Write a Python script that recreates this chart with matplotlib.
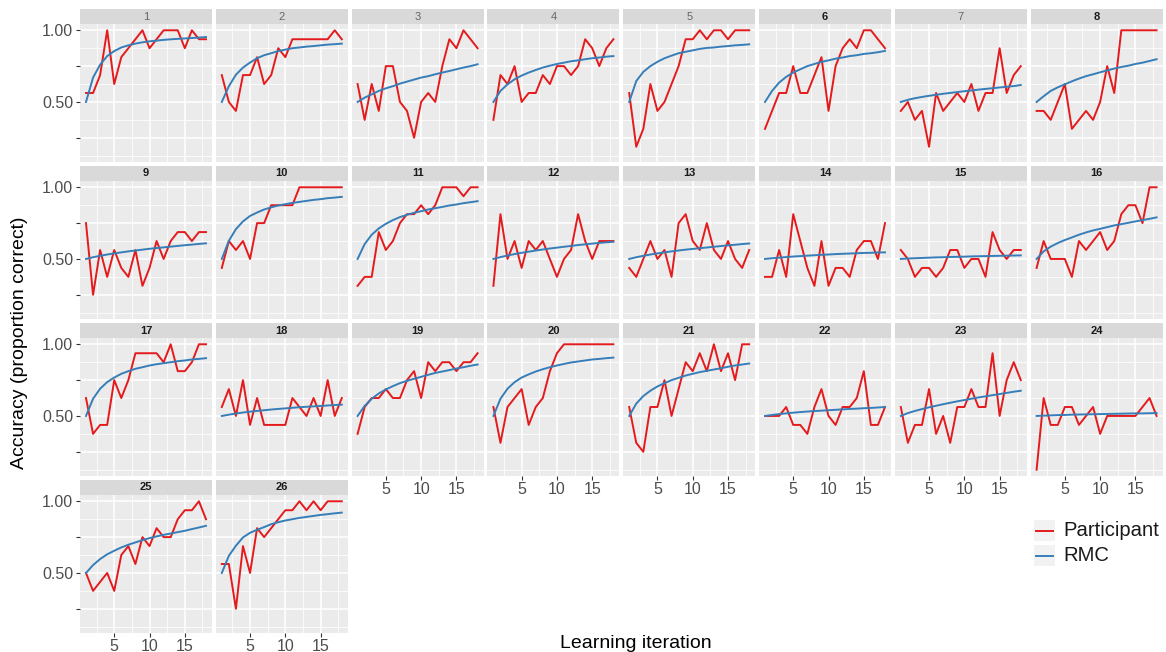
import matplotlib
matplotlib.use("Agg")
from matplotlib import pyplot as plt
from matplotlib.patches import Rectangle
from matplotlib.lines import Line2D
from matplotlib.ticker import MultipleLocator

plt.rcParams["font.family"] = ["Liberation Sans", "DejaVu Sans"]

# data: accuracy per learning iteration, one list per participant
iterations = list(range(1, 19))
panels = [str(i) for i in range(1, 27)]

participant = [
    [0.5625, 0.5625, 0.6875, 1.0, 0.625, 0.8125, 0.875, 0.9375, 1.0, 0.875, 0.9375, 1.0, 1.0, 1.0, 0.875, 1.0, 0.9375, 0.9375],
    [0.6875, 0.5, 0.4375, 0.6875, 0.6875, 0.8125, 0.625, 0.6875, 0.875, 0.8125, 0.9375, 0.9375, 0.9375, 0.9375, 0.9375, 0.9375, 1.0, 0.9375],
    [0.625, 0.375, 0.625, 0.4375, 0.75, 0.75, 0.5, 0.4375, 0.25, 0.5, 0.5625, 0.5, 0.75, 0.9375, 0.875, 1.0, 0.9375, 0.875],
    [0.375, 0.6875, 0.625, 0.75, 0.5, 0.5625, 0.5625, 0.6875, 0.625, 0.75, 0.75, 0.6875, 0.75, 0.9375, 0.875, 0.75, 0.875, 0.9375],
    [0.5625, 0.1875, 0.3125, 0.625, 0.4375, 0.5, 0.625, 0.75, 0.9375, 0.9375, 1.0, 0.9375, 1.0, 1.0, 0.9375, 1.0, 1.0, 1.0],
    [0.3125, 0.4375, 0.5625, 0.5625, 0.75, 0.5625, 0.5625, 0.6875, 0.8125, 0.4375, 0.75, 0.875, 0.9375, 0.875, 1.0, 1.0, 0.9375, 0.875],
    [0.4375, 0.5, 0.375, 0.4375, 0.1875, 0.5625, 0.4375, 0.5, 0.5625, 0.5, 0.625, 0.4375, 0.5625, 0.5625, 0.875, 0.5625, 0.6875, 0.75],
    [0.4375, 0.4375, 0.375, 0.5, 0.625, 0.3125, 0.375, 0.4375, 0.375, 0.5, 0.75, 0.5625, 1.0, 1.0, 1.0, 1.0, 1.0, 1.0],
    [0.75, 0.25, 0.5625, 0.375, 0.5625, 0.4375, 0.375, 0.5625, 0.3125, 0.4375, 0.625, 0.5, 0.625, 0.6875, 0.6875, 0.625, 0.6875, 0.6875],
    [0.4375, 0.625, 0.5625, 0.625, 0.5, 0.75, 0.75, 0.875, 0.875, 0.875, 0.875, 1.0, 1.0, 1.0, 1.0, 1.0, 1.0, 1.0],
    [0.3125, 0.375, 0.375, 0.6875, 0.5625, 0.625, 0.75, 0.8125, 0.8125, 0.875, 0.8125, 0.875, 1.0, 1.0, 1.0, 0.9375, 1.0, 1.0],
    [0.3125, 0.8125, 0.5, 0.625, 0.4375, 0.625, 0.5625, 0.625, 0.5, 0.375, 0.5, 0.5625, 0.8125, 0.625, 0.5, 0.625, 0.625, 0.625],
    [0.4375, 0.375, 0.5, 0.625, 0.5, 0.5625, 0.375, 0.75, 0.8125, 0.625, 0.5625, 0.75, 0.5625, 0.5, 0.625, 0.5, 0.4375, 0.5625],
    [0.375, 0.375, 0.5625, 0.375, 0.8125, 0.625, 0.4375, 0.3125, 0.625, 0.3125, 0.4375, 0.4375, 0.375, 0.5625, 0.625, 0.625, 0.5, 0.75],
    [0.5625, 0.5, 0.375, 0.4375, 0.4375, 0.375, 0.4375, 0.5625, 0.5625, 0.4375, 0.5, 0.5, 0.375, 0.6875, 0.5625, 0.5, 0.5625, 0.5625],
    [0.4375, 0.625, 0.5, 0.5, 0.5, 0.375, 0.625, 0.5625, 0.625, 0.6875, 0.5625, 0.625, 0.8125, 0.875, 0.875, 0.75, 1.0, 1.0],
    [0.625, 0.375, 0.4375, 0.4375, 0.75, 0.625, 0.75, 0.9375, 0.9375, 0.9375, 0.9375, 0.875, 1.0, 0.8125, 0.8125, 0.875, 1.0, 1.0],
    [0.5625, 0.6875, 0.5, 0.75, 0.4375, 0.625, 0.4375, 0.4375, 0.4375, 0.4375, 0.625, 0.5625, 0.5, 0.625, 0.5, 0.75, 0.5, 0.625],
    [0.375, 0.5625, 0.625, 0.625, 0.6875, 0.625, 0.625, 0.75, 0.8125, 0.625, 0.875, 0.8125, 0.875, 0.875, 0.8125, 0.875, 0.875, 0.9375],
    [0.5625, 0.3125, 0.5625, 0.625, 0.6875, 0.4375, 0.5625, 0.625, 0.8125, 0.9375, 1.0, 1.0, 1.0, 1.0, 1.0, 1.0, 1.0, 1.0],
    [0.5625, 0.3125, 0.25, 0.5625, 0.5625, 0.75, 0.5, 0.6875, 0.875, 0.8125, 0.9375, 0.8125, 1.0, 0.8125, 0.9375, 0.75, 1.0, 1.0],
    [0.5, 0.5, 0.5, 0.5625, 0.4375, 0.4375, 0.375, 0.5625, 0.6875, 0.5, 0.4375, 0.5625, 0.5625, 0.625, 0.8125, 0.4375, 0.4375, 0.5625],
    [0.5625, 0.3125, 0.4375, 0.4375, 0.6875, 0.375, 0.5, 0.3125, 0.5625, 0.5625, 0.6875, 0.5625, 0.5625, 0.9375, 0.5, 0.75, 0.875, 0.75],
    [0.125, 0.625, 0.4375, 0.4375, 0.5625, 0.5625, 0.4375, 0.5, 0.5625, 0.375, 0.5, 0.5, 0.5, 0.5, 0.5, 0.5625, 0.625, 0.5],
    [0.5, 0.375, 0.4375, 0.5, 0.375, 0.625, 0.6875, 0.5625, 0.75, 0.6875, 0.8125, 0.75, 0.75, 0.875, 0.9375, 0.9375, 1.0, 0.875],
    [0.5625, 0.5625, 0.25, 0.6875, 0.5, 0.8125, 0.75, 0.8125, 0.875, 0.9375, 0.9375, 1.0, 0.9375, 1.0, 0.9375, 1.0, 1.0, 1.0],
]

rmc = [
    [0.5, 0.67, 0.76, 0.82, 0.855, 0.88, 0.895, 0.907, 0.916, 0.923, 0.928, 0.933, 0.937, 0.94, 0.943, 0.946, 0.949, 0.953],
    [0.5, 0.61, 0.69, 0.74, 0.775, 0.805, 0.826, 0.84, 0.855, 0.865, 0.875, 0.88, 0.886, 0.89, 0.895, 0.9, 0.903, 0.907],
    [0.5, 0.53, 0.553, 0.577, 0.595, 0.61, 0.628, 0.642, 0.656, 0.67, 0.68, 0.693, 0.705, 0.716, 0.728, 0.74, 0.75, 0.763],
    [0.5, 0.577, 0.623, 0.658, 0.684, 0.705, 0.723, 0.74, 0.753, 0.765, 0.774, 0.784, 0.79, 0.798, 0.805, 0.81, 0.816, 0.82],
    [0.5, 0.646, 0.71, 0.75, 0.78, 0.805, 0.823, 0.84, 0.85, 0.86, 0.87, 0.877, 0.88, 0.886, 0.89, 0.895, 0.898, 0.902],
    [0.5, 0.577, 0.635, 0.675, 0.705, 0.728, 0.75, 0.765, 0.78, 0.79, 0.802, 0.81, 0.82, 0.826, 0.835, 0.84, 0.847, 0.856],
    [0.5, 0.515, 0.526, 0.535, 0.543, 0.55, 0.557, 0.563, 0.569, 0.575, 0.58, 0.586, 0.591, 0.596, 0.601, 0.606, 0.611, 0.618],
    [0.5, 0.54, 0.577, 0.602, 0.623, 0.644, 0.663, 0.68, 0.693, 0.707, 0.72, 0.733, 0.744, 0.753, 0.765, 0.774, 0.786, 0.798],
    [0.5, 0.512, 0.522, 0.531, 0.539, 0.546, 0.553, 0.559, 0.565, 0.571, 0.576, 0.581, 0.586, 0.591, 0.596, 0.6, 0.605, 0.609],
    [0.5, 0.627, 0.708, 0.762, 0.8, 0.824, 0.845, 0.86, 0.873, 0.882, 0.891, 0.898, 0.905, 0.912, 0.917, 0.924, 0.928, 0.933],
    [0.5, 0.604, 0.669, 0.713, 0.745, 0.771, 0.792, 0.808, 0.822, 0.833, 0.845, 0.854, 0.863, 0.873, 0.88, 0.889, 0.896, 0.903],
    [0.5, 0.513, 0.524, 0.534, 0.543, 0.551, 0.559, 0.566, 0.573, 0.579, 0.585, 0.591, 0.597, 0.602, 0.607, 0.612, 0.616, 0.62],
    [0.5, 0.512, 0.522, 0.531, 0.539, 0.546, 0.553, 0.559, 0.565, 0.57, 0.575, 0.58, 0.585, 0.59, 0.595, 0.599, 0.604, 0.608],
    [0.5, 0.505, 0.509, 0.513, 0.517, 0.52, 0.523, 0.526, 0.529, 0.531, 0.534, 0.536, 0.538, 0.54, 0.542, 0.543, 0.545, 0.546],
    [0.5, 0.503, 0.505, 0.507, 0.509, 0.511, 0.512, 0.514, 0.515, 0.516, 0.518, 0.519, 0.52, 0.521, 0.522, 0.523, 0.524, 0.525],
    [0.5, 0.553, 0.586, 0.611, 0.632, 0.65, 0.669, 0.685, 0.699, 0.71, 0.722, 0.734, 0.743, 0.752, 0.762, 0.771, 0.78, 0.79],
    [0.5, 0.62, 0.69, 0.736, 0.768, 0.794, 0.8125, 0.829, 0.84, 0.852, 0.861, 0.868, 0.875, 0.882, 0.887, 0.894, 0.898, 0.903],
    [0.5, 0.509, 0.517, 0.524, 0.53, 0.535, 0.54, 0.545, 0.549, 0.553, 0.557, 0.561, 0.564, 0.567, 0.57, 0.573, 0.576, 0.579],
    [0.5, 0.57, 0.62, 0.657, 0.685, 0.708, 0.729, 0.745, 0.759, 0.773, 0.787, 0.8, 0.81, 0.82, 0.831, 0.84, 0.85, 0.859],
    [0.5, 0.62, 0.69, 0.736, 0.768, 0.79, 0.81, 0.826, 0.84, 0.852, 0.863, 0.873, 0.88, 0.887, 0.894, 0.898, 0.903, 0.907],
    [0.5, 0.586, 0.639, 0.676, 0.706, 0.729, 0.75, 0.766, 0.782, 0.794, 0.806, 0.815, 0.824, 0.833, 0.843, 0.852, 0.859, 0.866],
    [0.5, 0.507, 0.513, 0.518, 0.523, 0.527, 0.531, 0.534, 0.537, 0.54, 0.543, 0.546, 0.549, 0.551, 0.554, 0.556, 0.559, 0.5625],
    [0.5, 0.52, 0.535, 0.548, 0.56, 0.571, 0.582, 0.592, 0.602, 0.611, 0.62, 0.629, 0.637, 0.645, 0.653, 0.661, 0.669, 0.676],
    [0.5, 0.502, 0.504, 0.506, 0.507, 0.509, 0.51, 0.511, 0.512, 0.513, 0.514, 0.515, 0.516, 0.517, 0.518, 0.518, 0.519, 0.52],
    [0.5, 0.555, 0.597, 0.63, 0.655, 0.678, 0.697, 0.713, 0.729, 0.743, 0.755, 0.766, 0.775, 0.785, 0.794, 0.806, 0.817, 0.829],
    [0.5, 0.62, 0.69, 0.748, 0.78, 0.801, 0.82, 0.84, 0.854, 0.866, 0.875, 0.884, 0.891, 0.898, 0.905, 0.91, 0.916, 0.921],
]

x_ticks = [5, 10, 15]
y_ticks = [0.25, 0.5, 0.75, 1.0]
y_ticklabels = ["", "0.50", "", "1.00"]
series_names = ["Participant", "RMC"]

RED = "#E41A1C"
BLUE = "#377EB8"
W, H = 1166, 652
NCOL = 8
# strips that come out light in the reference
light_strips = {"1", "2", "3", "4", "5", "7"}

fig = plt.figure(figsize=(W / 100, H / 100), dpi=100)

pan_w, pan_h, strip_h = 132, 138, 15
col_step, row_step = 135.8, 157


def fig_box(left, top, width, height):
    return [left / W, 1 - (top + height) / H, width / W, height / H]


n = len(panels)
for i, name in enumerate(panels):
    r, c = divmod(i, NCOL)
    left = 80 + c * col_step
    top = 9 + r * row_step + strip_h
    ax = fig.add_axes(fig_box(left, top, pan_w, pan_h))
    ax.set_facecolor("#EBEBEB")
    for s in ax.spines.values():
        s.set_visible(False)

    ax.plot(iterations, participant[i], color=RED, lw=1.4, zorder=3)
    ax.plot(iterations, rmc[i], color=BLUE, lw=1.4, zorder=3)

    ax.set_xlim(0.15, 18.85)
    ax.set_ylim(0.08125, 1.04375)
    ax.set_xticks(x_ticks)
    ax.set_yticks(y_ticks)
    ax.xaxis.set_minor_locator(MultipleLocator(2.5))
    ax.yaxis.set_minor_locator(MultipleLocator(0.125))
    ax.set_axisbelow(True)
    ax.grid(which="major", color="white", lw=1.1)
    ax.grid(which="minor", color="white", lw=0.55)
    ax.tick_params(which="minor", length=0)

    # bottom panel in its column gets the x labels
    bottom = i + NCOL >= n
    if bottom:
        ax.tick_params(axis="x", length=3, width=0.8, color="#333333",
                       labelcolor="#4D4D4D", labelsize=11.5, pad=1.5)
    else:
        ax.tick_params(axis="x", bottom=False, labelbottom=False)
    if c == 0:
        ax.set_yticklabels(y_ticklabels)
        ax.tick_params(axis="y", length=3, width=0.8, color="#333333",
                       labelcolor="#4D4D4D", labelsize=11.5, pad=2)
    else:
        ax.tick_params(axis="y", left=False, labelleft=False)

    # facet strip
    ax.add_patch(Rectangle((0, 1), 1, strip_h / pan_h, transform=ax.transAxes,
                           facecolor="#D9D9D9", edgecolor="none", clip_on=False))
    if name in light_strips:
        ax.text(0.5, 1 + strip_h / pan_h / 2, name, transform=ax.transAxes,
                ha="center", va="center", fontsize=8, color="#666666")
    else:
        ax.text(0.5, 1 + strip_h / pan_h / 2, name, transform=ax.transAxes,
                ha="center", va="center", fontsize=8, fontweight="bold",
                color="#1A1A1A")

# axis titles
fig.text(20 / W, 1 - 343 / H, "Accuracy (proportion correct)", rotation=90,
         ha="center", va="center", fontsize=14)
fig.text(636 / W, 1 - 643 / H, "Learning iteration", ha="center", va="center",
         fontsize=14)

# legend
for k, (label, col) in enumerate(zip(series_names, [RED, BLUE])):
    top = 520 + k * 25
    fig.add_artist(Rectangle((1034 / W, 1 - (top + 21) / H), 21 / W, 21 / H,
                             transform=fig.transFigure, facecolor="#F2F2F2",
                             edgecolor="none"))
    yc = 1 - (top + 10.5) / H
    fig.add_artist(Line2D([1036 / W, 1053 / W], [yc, yc], color=col, lw=1.4,
                          transform=fig.transFigure))
    fig.text(1063 / W, yc, label, ha="left", va="center", fontsize=14.6,
             color="#1A1A1A")

plt.savefig("out.png", dpi=100)
